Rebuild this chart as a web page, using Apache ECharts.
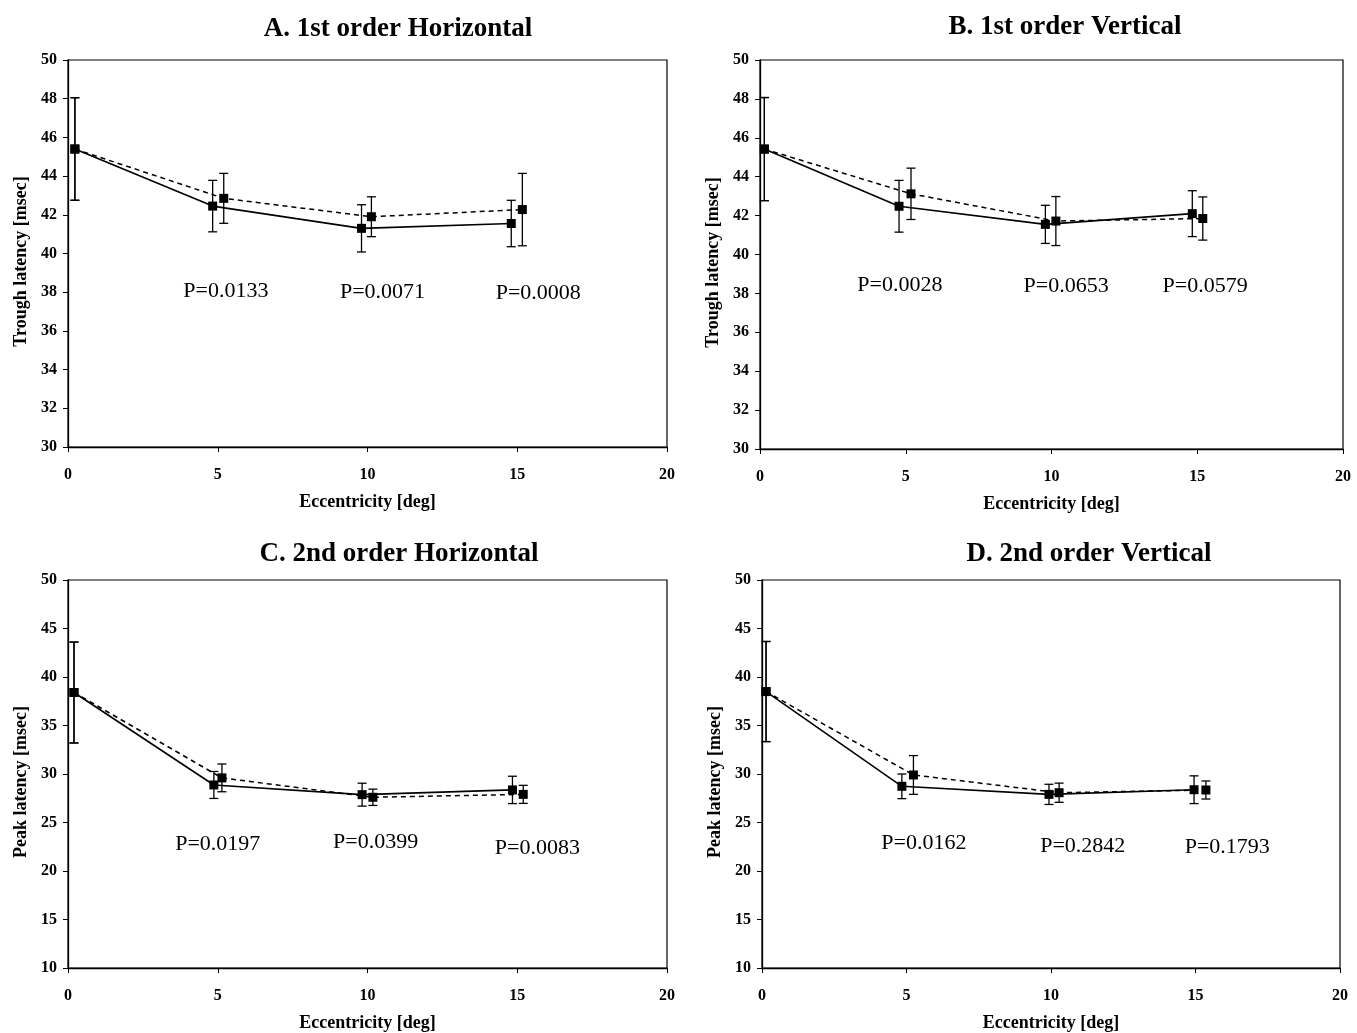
<!DOCTYPE html>
<html>
<head>
<meta charset="utf-8">
<script src="https://cdn.jsdelivr.net/npm/echarts@6.0.0/dist/echarts.min.js"></script>
<style>
    html, body { margin: 0; padding: 0; background: #fff; }
    #main { width: 1357px; height: 1033px; }
</style>
</head>
<body>
<div id="main"></div>
<script>
(function () {
    "use strict";

    var titles = ['A. 1st order Horizontal', 'B. 1st order Vertical', 'C. 2nd order Horizontal', 'D. 2nd order Vertical'];
    var yNames = ['Trough latency [msec]', 'Trough latency [msec]', 'Peak latency [msec]', 'Peak latency [msec]'];
    var xName = 'Eccentricity [deg]';

    // A. 1st order Horizontal
    var aSolidX = [0.23, 4.83, 9.8, 14.8];
    var aSolidY = [45.4, 42.45, 41.3, 41.55];
    var aSolidErr = [2.65, 1.33, 1.22, 1.2];
    var aDashX = [0.23, 5.2, 10.13, 15.17];
    var aDashY = [45.4, 42.85, 41.9, 42.27];
    var aDashErr = [2.65, 1.29, 1.03, 1.87];
    var aP = ['P=0.0133', 'P=0.0071', 'P=0.0008'];

    // B. 1st order Vertical
    var bSolidX = [0.15, 4.77, 9.79, 14.83];
    var bSolidY = [45.42, 42.48, 41.55, 42.1];
    var bSolidErr = [2.65, 1.33, 0.98, 1.18];
    var bDashX = [0.15, 5.18, 10.15, 15.19];
    var bDashY = [45.42, 43.12, 41.72, 41.85];
    var bDashErr = [2.65, 1.32, 1.26, 1.11];
    var bP = ['P=0.0028', 'P=0.0653', 'P=0.0579'];

    // C. 2nd order Horizontal
    var cSolidX = [0.2, 4.87, 9.82, 14.84];
    var cSolidY = [38.4, 28.87, 27.87, 28.36];
    var cSolidErr = [5.2, 1.39, 1.18, 1.41];
    var cDashX = [0.2, 5.14, 10.18, 15.2];
    var cDashY = [38.4, 29.6, 27.6, 27.9];
    var cDashErr = [5.2, 1.43, 0.84, 0.93];
    var cP = ['P=0.0197', 'P=0.0399', 'P=0.0083'];

    // D. 2nd order Vertical
    var dSolidX = [0.14, 4.84, 9.93, 14.95];
    var dSolidY = [38.5, 28.73, 27.9, 28.38];
    var dSolidErr = [5.16, 1.27, 1.04, 1.43];
    var dDashX = [0.14, 5.24, 10.28, 15.36];
    var dDashY = [38.5, 29.9, 28.07, 28.35];
    var dDashErr = [5.16, 2.0, 0.99, 0.93];
    var dP = ['P=0.0162', 'P=0.2842', 'P=0.1793'];

    // where the P labels sit, in data units
    var pPosA = [[5.27, 38.05], [10.5, 38.0], [15.7, 37.95]];
    var pPosB = [[4.8, 38.4], [10.5, 38.35], [15.27, 38.35]];
    var pPosC = [[5.0, 22.8], [10.27, 23.0], [15.67, 22.4]];
    var pPosD = [[5.6, 22.9], [11.1, 22.6], [16.1, 22.5]];

    var yRanges = [[30, 50, 2], [30, 50, 2], [10, 50, 5], [10, 50, 5]];

    var panels = [
        {sx: aSolidX, sy: aSolidY, se: aSolidErr, dx: aDashX, dy: aDashY, de: aDashErr, p: aP, pp: pPosA},
        {sx: bSolidX, sy: bSolidY, se: bSolidErr, dx: bDashX, dy: bDashY, de: bDashErr, p: bP, pp: pPosB},
        {sx: cSolidX, sy: cSolidY, se: cSolidErr, dx: cDashX, dy: cDashY, de: cDashErr, p: cP, pp: pPosC},
        {sx: dSolidX, sy: dSolidY, se: dSolidErr, dx: dDashX, dy: dDashY, de: dDashErr, p: dP, pp: pPosD}
    ];

    var boxes = [
        {left: 68, top: 60, width: 599, height: 387},
        {left: 760, top: 60, width: 583, height: 389},
        {left: 68, top: 580, width: 599, height: 388},
        {left: 762, top: 580, width: 578, height: 388}
    ];
    var titlePos = [[393, 11], [1060, 9], [394, 536], [1084, 536]];

    var serif = '"Liberation Serif", "DejaVu Serif", serif';

    function pairs(xs, ys) {
        return xs.map(function (x, i) { return [x, ys[i]]; });
    }

    function errData(xs, ys, es) {
        return xs.map(function (x, i) { return [x, ys[i] - es[i], ys[i] + es[i]]; });
    }

    function renderErr(params, api) {
        var x = api.value(0);
        var top = api.coord([x, api.value(2)]);
        var bot = api.coord([x, api.value(1)]);
        var w = 4.5;
        var st = {stroke: '#000', lineWidth: 1.3};
        return {
            type: 'group',
            children: [
                {type: 'line', shape: {x1: top[0], y1: top[1], x2: bot[0], y2: bot[1]}, style: st},
                {type: 'line', shape: {x1: top[0] - w, y1: top[1], x2: top[0] + w, y2: top[1]}, style: st},
                {type: 'line', shape: {x1: bot[0] - w, y1: bot[1], x2: bot[0] + w, y2: bot[1]}, style: st}
            ]
        };
    }

    var grid = [], xAxis = [], yAxis = [], series = [], title = [];

    panels.forEach(function (pn, i) {
        var b = boxes[i];
        grid.push({
            left: b.left, top: b.top, width: b.width, height: b.height,
            show: true, borderColor: '#000', borderWidth: 1.2, backgroundColor: '#fff'
        });
        title.push({
            text: titles[i],
            left: titlePos[i][0], top: titlePos[i][1], textAlign: 'center',
            textStyle: {fontFamily: serif, fontWeight: 'bold', fontSize: 27, color: '#000'}
        });
        xAxis.push({
            type: 'value', gridIndex: i, min: 0, max: 20, interval: 5,
            name: xName, nameLocation: 'middle', nameGap: 46,
            nameTextStyle: {fontFamily: serif, fontWeight: 'bold', fontSize: 18, color: '#000'},
            axisLine: {show: true, lineStyle: {color: '#000', width: 1.3}},
            axisTick: {show: true, length: 5, lineStyle: {color: '#000'}},
            splitLine: {show: false},
            axisLabel: {margin: 20, fontFamily: serif, fontWeight: 'bold', fontSize: 16, color: '#000'}
        });
        yAxis.push({
            type: 'value', gridIndex: i, min: yRanges[i][0], max: yRanges[i][1], interval: yRanges[i][2],
            name: yNames[i], nameLocation: 'middle', nameGap: 38,
            nameTextStyle: {fontFamily: serif, fontWeight: 'bold', fontSize: 18, color: '#000', padding: [0, 16, 0, 0]},
            axisLine: {show: true, lineStyle: {color: '#000', width: 1.3}},
            axisTick: {show: true, length: 5, lineStyle: {color: '#000'}},
            splitLine: {show: false},
            axisLabel: {margin: 11, fontFamily: serif, fontWeight: 'bold', fontSize: 16, color: '#000'}
        });

        series.push({
            type: 'custom', xAxisIndex: i, yAxisIndex: i,
            renderItem: renderErr, encode: {x: 0, y: [1, 2]},
            data: errData(pn.sx, pn.sy, pn.se), z: 3
        });
        series.push({
            type: 'custom', xAxisIndex: i, yAxisIndex: i,
            renderItem: renderErr, encode: {x: 0, y: [1, 2]},
            data: errData(pn.dx, pn.dy, pn.de), z: 3
        });
        series.push({
            type: 'line', xAxisIndex: i, yAxisIndex: i,
            data: pairs(pn.sx, pn.sy),
            symbol: 'rect', symbolSize: 9,
            itemStyle: {color: '#000'},
            lineStyle: {color: '#000', width: 1.6, type: 'solid'},
            z: 4, animation: false
        });
        series.push({
            type: 'line', xAxisIndex: i, yAxisIndex: i,
            data: pairs(pn.dx, pn.dy),
            symbol: 'rect', symbolSize: 9,
            itemStyle: {color: '#000'},
            lineStyle: {color: '#000', width: 1.5, type: [5, 4]},
            z: 4, animation: false
        });
        series.push({
            type: 'scatter', xAxisIndex: i, yAxisIndex: i,
            symbolSize: 0,
            itemStyle: {opacity: 1, color: '#000'},
            data: pn.pp.map(function (pos, k) { return [pos[0], pos[1], pn.p[k]]; }),
            label: {
                show: true, position: 'inside',
                formatter: function (d) { return d.value[2]; },
                fontFamily: serif, fontSize: 22, color: '#000', opacity: 1
            },
            z: 5
        });
    });

    var chart = echarts.init(document.getElementById('main'));
    chart.setOption({
        backgroundColor: '#fff',
        animation: false,
        title: title,
        grid: grid,
        xAxis: xAxis,
        yAxis: yAxis,
        series: series
    });
}());
</script>
</body>
</html>
